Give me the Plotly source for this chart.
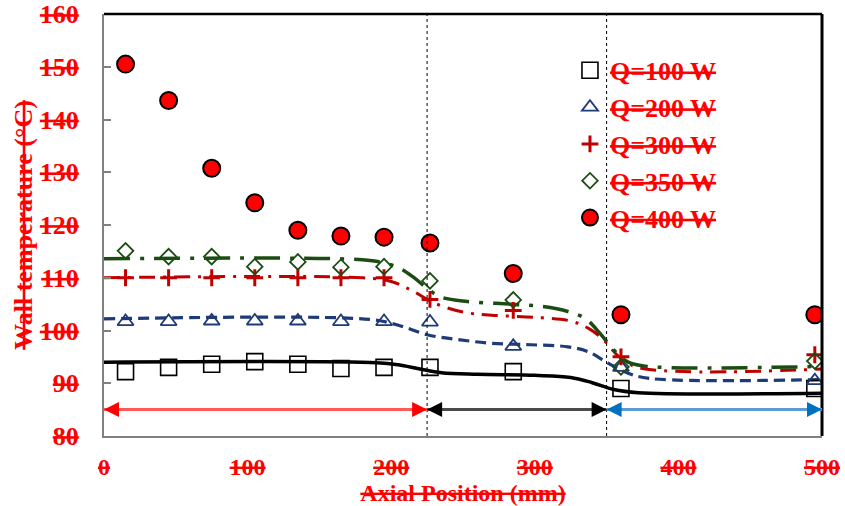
import plotly.graph_objects as go

# ---- data ----
x_pos = [15, 45, 75, 105, 135, 165, 195, 227, 285, 360, 495]
q100 = [92.2, 93.0, 93.6, 94.1, 93.6, 92.8, 93.0, 93.0, 92.2, 89.0, 89.0]
q200 = [101.7, 101.7, 101.8, 101.8, 101.8, 101.7, 101.7, 101.6, 97.0, 93.0, 90.5]
q300 = [110.0, 110.0, 110.0, 110.0, 110.0, 110.0, 110.0, 105.9, 103.8, 95.0, 95.4]
q350 = [115.1, 114.0, 114.0, 112.1, 113.0, 112.0, 112.1, 109.4, 105.8, 93.1, 94.2]
q400 = [150.5, 143.6, 130.75, 124.2, 119.0, 117.9, 117.7, 116.6, 110.8, 103.0, 103.0]

# fitted trend lines
fit100_x = [0, 190, 205, 220, 235, 260, 300, 325, 340, 355, 372, 500]
fit100_y = [94.0, 93.9, 93.5, 92.7, 92.0, 91.7, 91.5, 91.1, 90.1, 88.8, 88.2, 88.1]
fit200_x = [0, 185, 205, 225, 246, 269, 297, 323, 337, 351, 365, 380, 500]
fit200_y = [102.2, 102.1, 101.0, 99.2, 98.3, 97.6, 97.3, 96.9, 96.0, 93.8, 91.9, 90.9, 90.7]
fit300_x = [0, 180, 200, 215, 230, 250, 270, 300, 325, 338, 348, 358, 372, 500]
fit300_y = [110.0, 110.0, 109.3, 107.5, 105.2, 103.5, 102.9, 102.5, 101.8, 100.3, 98.2, 95.2, 93.0, 92.7]
fit350_x = [0, 180, 195, 206, 215, 225, 234, 253, 283, 304, 323, 335, 345, 355, 365, 378, 500]
fit350_y = [113.6, 113.4, 112.8, 111.8, 110.2, 108.0, 106.4, 105.5, 105.0, 104.6, 103.6, 102.3, 99.6, 96.3, 94.0, 93.2, 93.2]

labels = ["Q=100 W", "Q=200 W", "Q=300 W", "Q=350 W", "Q=400 W"]

# section boundaries (mm) and the arrow level
sections = [0, 225, 350, 500]
arrow_level = 85

x_ticks = [0, 100, 200, 300, 400, 500]
y_ticks = [80, 90, 100, 110, 120, 130, 140, 150, 160]

FONT = "Liberation Serif"
RED = "#ff0000"
NAVY = "#1f3a78"
DRED = "#c00000"
GREEN = "#1b4d12"

fig = go.Figure()

# trend lines
fig.add_trace(go.Scatter(x=fit100_x, y=fit100_y, mode="lines", showlegend=False,
                         line=dict(color="black", width=3.5, shape="spline", smoothing=1.0)))
fig.add_trace(go.Scatter(x=fit200_x, y=fit200_y, mode="lines", showlegend=False,
                         line=dict(color=NAVY, width=3.2, dash="11px,6px", shape="spline", smoothing=1.0)))
fig.add_trace(go.Scatter(x=fit300_x, y=fit300_y, mode="lines", showlegend=False,
                         line=dict(color=DRED, width=3, dash="16px,8px,3px,8px", shape="spline", smoothing=1.0)))
fig.add_trace(go.Scatter(x=fit350_x, y=fit350_y, mode="lines", showlegend=False,
                         line=dict(color=GREEN, width=3.5, dash="26px,10px,4px,10px", shape="spline", smoothing=1.0)))

# markers
marker_defs = [
    (q100, dict(symbol="square-open", size=16, color="black", line=dict(width=1.6, color="black"))),
    (q200, dict(symbol="triangle-up-open", size=14, color=NAVY, line=dict(width=1.8, color=NAVY))),
    (q300, dict(symbol="cross-thin", size=12, color=DRED, line=dict(width=3, color=DRED))),
    (q350, dict(symbol="diamond-open", size=12, color=GREEN, line=dict(width=1.8, color=GREEN))),
    (q400, dict(symbol="circle", size=17, color=RED, line=dict(width=2, color="black"))),
]
for i, (vals, mk) in enumerate(marker_defs):
    fig.add_trace(go.Scatter(x=x_pos, y=vals, mode="markers", name=labels[i],
                             legendgroup=labels[i], marker=mk))

# section divider lines
shapes = []
for xs in sections[1:3]:
    shapes.append(dict(type="line", xref="x", yref="paper", x0=xs, x1=xs, y0=0, y1=1,
                       line=dict(color="black", width=1, dash="dot")))
# top and right border
shapes.append(dict(type="line", xref="paper", yref="paper", x0=0, x1=1, y0=1, y1=1,
                   line=dict(color="black", width=2.5)))
shapes.append(dict(type="line", xref="paper", yref="paper", x0=1, x1=1, y0=0, y1=1,
                   line=dict(color="black", width=3)))

# arrow shafts
shaft_colors = ["#ff5a5a", "#4a4a4a", "#5b9bd5"]
head_colors = ["#ff0000", "#000000", "#0070c0"]
for k in range(3):
    shapes.append(dict(type="line", xref="x", yref="y", x0=sections[k], x1=sections[k + 1],
                       y0=arrow_level, y1=arrow_level, line=dict(color=shaft_colors[k], width=3)))

annotations = []
for k in range(3):
    annotations.append(dict(x=sections[k], y=arrow_level, xref="x", yref="y", text="",
                            showarrow=True, ax=14, ay=0, arrowhead=2, arrowsize=1,
                            arrowwidth=3, arrowcolor=head_colors[k]))
    annotations.append(dict(x=sections[k + 1], y=arrow_level, xref="x", yref="y", text="",
                            showarrow=True, ax=-14, ay=0, arrowhead=2, arrowsize=1,
                            arrowwidth=3, arrowcolor=head_colors[k]))

tfont = dict(family=FONT, size=26, color=RED, weight="bold", lineposition="through")
xfont = dict(family=FONT, size=24, color=RED, weight="bold", lineposition="through")

fig.update_layout(
    width=845, height=506,
    margin=dict(l=104, r=23, t=14, b=70, autoexpand=False),
    paper_bgcolor="white", plot_bgcolor="white",
    shapes=shapes, annotations=annotations,
    legend=dict(x=0.649, y=0.922, xanchor="left", yanchor="top", bgcolor="rgba(0,0,0,0)",
                font=tfont, tracegroupgap=0, itemsizing="trace"),
    xaxis=dict(range=[0, 500], tickvals=x_ticks, showgrid=False, zeroline=False,
               showline=True, linecolor="#808080", linewidth=2, ticks="",
               tickfont=xfont, ticklabelstandoff=8, automargin=False,
               title=dict(text="Axial Position (mm)", font=xfont, standoff=2)),
    yaxis=dict(range=[80, 160], tickvals=y_ticks, showgrid=False, zeroline=False,
               showline=True, linecolor="#808080", linewidth=2, ticks="inside",
               ticklen=7, tickwidth=2, tickcolor="#808080",
               tickfont=tfont, ticklabelstandoff=18, automargin=False,
               title=dict(text="Wall temperature (°C)", font=tfont, standoff=0)),
)

fig.write_html("out.html")
